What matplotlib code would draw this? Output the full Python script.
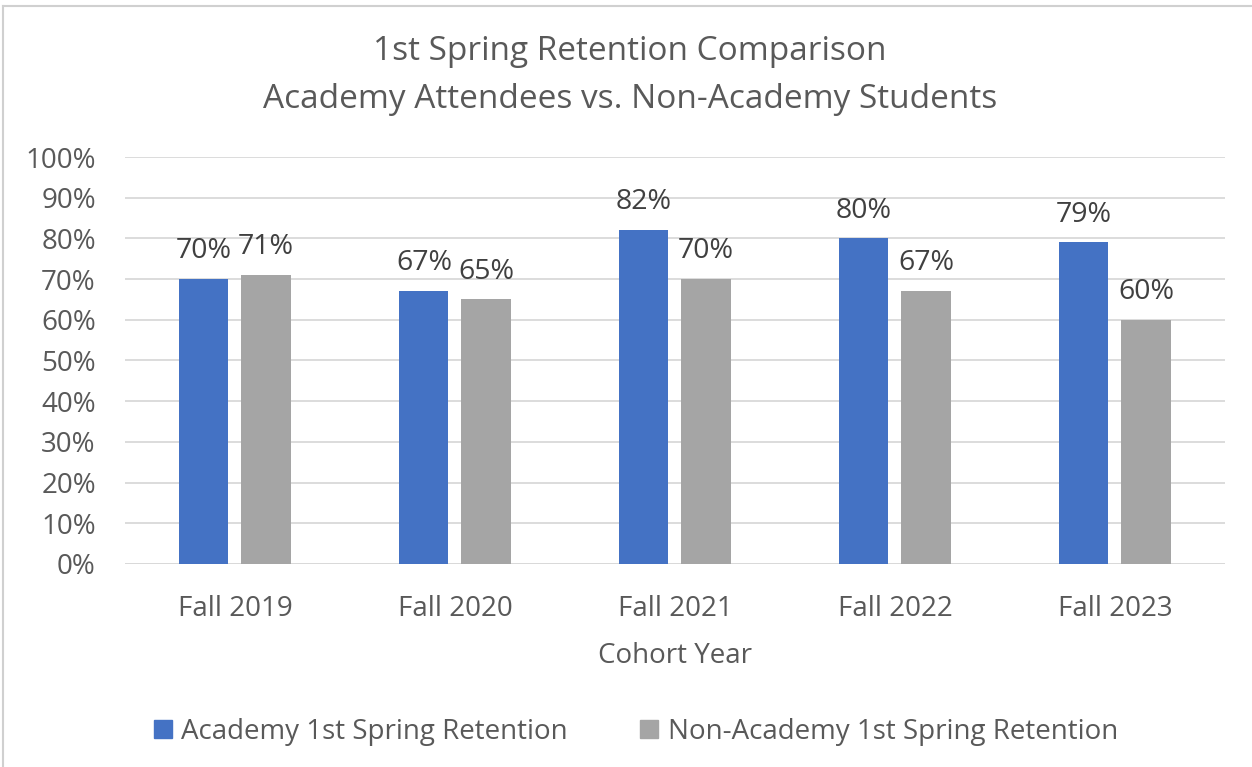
import numpy as np
import matplotlib
matplotlib.use("Agg")
import matplotlib.pyplot as plt
from matplotlib.lines import Line2D
from matplotlib.patches import Patch

plt.rcParams.update({"font.family": ["Open Sans", "DejaVu Sans"]})

cohorts = ["Fall 2019", "Fall 2020", "Fall 2021", "Fall 2022", "Fall 2023"]
academy = [70, 67, 82, 80, 79]
non_academy = [71, 65, 70, 67, 60]
series_names = ["Academy 1st Spring Retention", "Non-Academy 1st Spring Retention"]

BLUE = "#4472C4"
GRAY = "#A5A5A5"
TXT = "#595959"

fig = plt.figure(figsize=(12.52, 7.67), dpi=100)
ax = fig.add_axes([0.0998, 0.2647, 0.8786, 0.5306])

x = np.arange(len(cohorts))
w = 0.223
off = 0.141
b1 = ax.bar(x - off, academy, w, color=BLUE, zorder=3)
b2 = ax.bar(x + off, non_academy, w, color=GRAY, zorder=3)
for bars in (b1, b2):
    for r in bars:
        ax.annotate(f"{r.get_height():.0f}%",
                    (r.get_x() + r.get_width() / 2, r.get_height()),
                    xytext=(0, 10), textcoords="offset points",
                    ha="center", va="bottom", fontsize=20.5, color="#404040")

ax.set_xlim(-0.5, len(cohorts) - 0.5)
ax.set_ylim(0, 100)
ax.set_yticks(np.arange(0, 101, 10))
ax.set_yticklabels([f"{v}%" for v in range(0, 101, 10)])
ax.set_xticks(x)
ax.set_xticklabels(cohorts)
ax.tick_params(axis="both", length=0, labelsize=20, labelcolor=TXT)
ax.tick_params(axis="x", pad=22)
ax.tick_params(axis="y", pad=21)
ax.grid(axis="y", color="#D9D9D9", linewidth=1.3, zorder=0)
for s in ax.spines.values():
    s.set_visible(False)
ax.axhline(0, color="#D9D9D9", linewidth=1.3, zorder=1)
ax.set_xlabel("Cohort Year", fontsize=20, color=TXT, labelpad=14)

fig.text(0.503, 0.933, "1st Spring Retention Comparison", ha="center",
         va="center", fontsize=24, color=TXT)
fig.text(0.503, 0.870, "Academy Attendees vs. Non-Academy Students",
         ha="center", va="center", fontsize=24, color=TXT)

handles = [Patch(color=BLUE), Patch(color=GRAY)]
fig.legend(handles, series_names, loc="center", bbox_to_anchor=(0.508, 0.046),
           ncol=2, frameon=False, fontsize=20, labelcolor=TXT,
           handlelength=0.65, handleheight=0.65, handletextpad=0.35,
           columnspacing=2.6)

# chart frame (top and left edges visible)
fig.add_artist(Line2D([0.0025, 1.0], [0.992, 0.992], color="#D0D0D0",
                      linewidth=1.5, transform=fig.transFigure))
fig.add_artist(Line2D([0.0025, 0.0025], [0.0, 0.992], color="#D0D0D0",
                      linewidth=1.5, transform=fig.transFigure))

fig.savefig("out.png", dpi=100)
